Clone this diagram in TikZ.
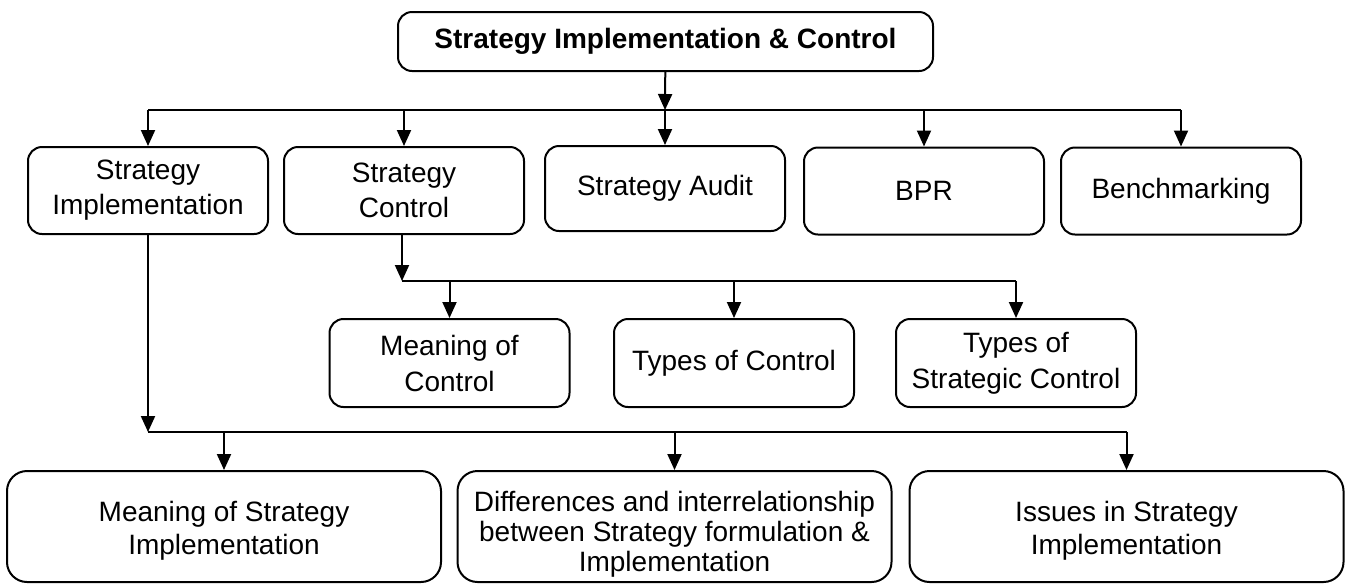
\documentclass[tikz,border=0pt]{standalone}
\usepackage{fontspec}
\setmainfont{Liberation Sans}
\usetikzlibrary{arrows.meta}
\begin{document}
\begin{tikzpicture}[x=0.5pt, y=-0.5pt, line width=1pt, line join=round, >={Triangle[length=8pt,width=7pt]},
	box/.style={draw, rounded corners=7pt, align=center, inner sep=0pt, font=\fontsize{14}{17.5}\selectfont},
	topbox/.style={box, minimum width=120pt, minimum height=43.5pt},
	midbox/.style={box, minimum width=120pt, minimum height=44pt, font=\fontsize{14}{18}\selectfont},
	lowbox/.style={box, rounded corners=10pt, minimum width=217pt, minimum height=55.5pt, font=\fontsize{14}{16.5}\selectfont, text height=#1},
	lowbox/.default=30.7pt]
	\useasboundingbox (0,0) rectangle (1347,585);
	% head
	\node[box, minimum width=267.5pt, minimum height=29.5pt, font=\bfseries\fontsize{14}{17}\selectfont] (head) at (665.5,41.5) {Strategy Implementation \& Control};
	% first level
	\node[topbox] (impl) at (148,190.5) {Strategy\\Implementation};
	\node[topbox] (ctrl) at (404,190.5) {Strategy\\Control};
	\node[topbox, minimum height=42.5pt] (audit) at (665,188.5) {Strategy Audit};
	\node[topbox] (bpr) at (924,191) {BPR};
	\node[topbox] (bench) at (1181,191) {Benchmarking};
	% under control
	\node[midbox] (meanctrl) at (449.5,363) {Meaning of\\Control};
	\node[midbox] (typectrl) at (734,363) {Types of Control};
	\node[midbox] (typestrat) at (1016,363) {Types of\\Strategic Control};
	% under implementation
	\node[lowbox] (meanimpl) at (224,526.5) {Meaning of Strategy\\Implementation};
	\node[lowbox=48pt, font=\fontsize{14}{15}\selectfont] (diff) at (674.5,526.5) {Differences and interrelationship\\between Strategy formulation \&\\Implementation};
	\node[lowbox] (issue) at (1126.5,526.5) {Issues in Strategy\\Implementation};
	\coordinate (busA) at (665,110);
	\coordinate (busB) at (402,281);
	\coordinate (busC) at (148,432);
	\draw[->] (head) -- (busA);
	\draw[->] (busA) -- (audit);
	\draw (impl.north |- busA) -- (bench.north |- busA);
	\foreach \n in {impl,ctrl,bpr,bench}
	\draw[->] (\n.north |- busA) -- (\n.north);
	\draw[->] (ctrl.south -| busB) -- (busB);
	\draw (busB) -- (typestrat.north |- busB);
	\foreach \n in {meanctrl,typectrl,typestrat}
	\draw[->] (\n.north |- busB) -- (\n.north);
	\draw[->] (impl.south) -- (busC);
	\draw (busC) -- (issue.north |- busC);
	\foreach \n in {meanimpl,diff,issue}
	\draw[->] (\n.north |- busC) -- (\n.north);
\end{tikzpicture}
\end{document}
